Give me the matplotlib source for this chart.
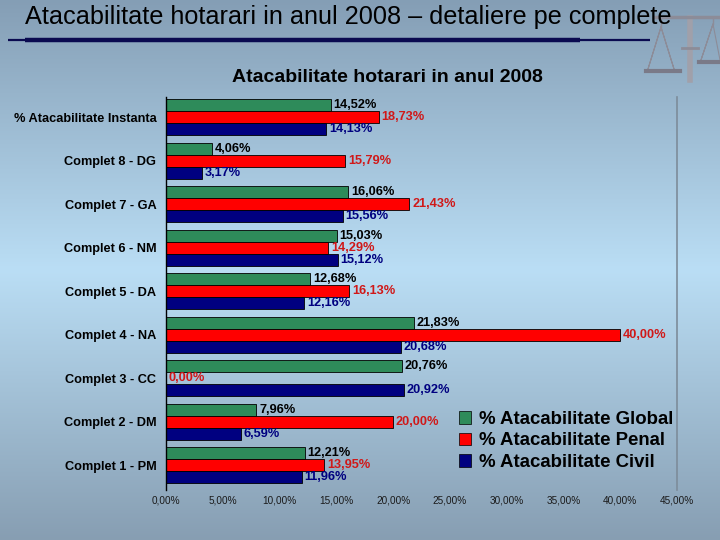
import numpy as np
import matplotlib
matplotlib.use('Agg')
import matplotlib.pyplot as plt
from matplotlib.colors import LinearSegmentedColormap
from matplotlib.patches import Patch

plt.rcParams['font.family'] = ['Liberation Sans', 'DejaVu Sans']

# data
categories = ['% Atacabilitate Instanta', 'Complet 8 - DG', 'Complet 7 - GA',
              'Complet 6 - NM', 'Complet 5 - DA', 'Complet 4 - NA',
              'Complet 3 - CC', 'Complet 2 - DM', 'Complet 1 - PM']
global_vals = [14.52, 4.06, 16.06, 15.03, 12.68, 21.83, 20.76, 7.96, 12.21]
penal_vals = [18.73, 15.79, 21.43, 14.29, 16.13, 40.00, 0.00, 20.00, 13.95]
civil_vals = [14.13, 3.17, 15.56, 15.12, 12.16, 20.68, 20.92, 6.59, 11.96]
xticks = [0, 5, 10, 15, 20, 25, 30, 35, 40, 45]

series_names = ['% Atacabilitate Global', '% Atacabilitate Penal', '% Atacabilitate Civil']
bar_colors = ['#2e8b5a', '#ff0000', '#000080']
label_colors = ['black', '#d01818', '#000080']


def pct(v):
    return f'{v:.2f}%'.replace('.', ',')


fig = plt.figure(figsize=(7.2, 5.4), dpi=100)

# background gradient + slide decorations (pixel coordinates)
bg = fig.add_axes([0, 0, 1, 1], zorder=0)
cmap = LinearSegmentedColormap.from_list('bg', [(0.0, (0.52, 0.62, 0.71)),
                                               (0.5, (0.73, 0.87, 0.96)),
                                               (1.0, (0.53, 0.62, 0.70))])
grad = np.linspace(0, 1, 256).reshape(-1, 1)
bg.imshow(grad, cmap=cmap, aspect='auto', extent=(0, 720, 540, 0))
bg.set_xlim(0, 720)
bg.set_ylim(540, 0)
bg.axis('off')

# underline of slide title
bg.plot([8, 650], [40, 40], color='#0a0a50', lw=1.6, solid_capstyle='butt')
bg.plot([25, 580], [40, 40], color='#0a0a50', lw=3.2, solid_capstyle='butt')

# little balance scale icon
metal = '#8c8c98'
bg.plot([690, 690], [18, 80], color='#a0a0aa', lw=4)
bg.plot([655, 720], [17, 17], color=metal, lw=2.5)
bg.plot([661, 661], [17, 27], color=metal, lw=1)
bg.plot([661, 648, 661, 674, 661], [27, 69, 27, 69, 27], color=metal, lw=0.8)
bg.plot([646, 680], [71, 71], color='#7a7a88', lw=3)
bg.plot([713, 713], [17, 24], color=metal, lw=1)
bg.plot([713, 701, 713, 720], [24, 60, 24, 60], color=metal, lw=0.8)
bg.plot([699, 720], [62, 62], color='#7a7a88', lw=3)
bg.plot([682, 698], [48, 48], color=metal, lw=2)

fig.text(25 / 720, 1 - 17 / 540, 'Atacabilitate hotarari in anul 2008 \u2013 detaliere pe complete',
         fontsize=18.2, ha='left', va='center', color='black', zorder=5)
fig.text(387 / 720, 1 - 77 / 540, 'Atacabilitate hotarari in anul 2008',
         fontsize=14, fontweight='bold', ha='center', va='center', zorder=5)

# main chart
ax = fig.add_axes([166 / 720, 1 - 490 / 540, 511 / 720, 393 / 540], zorder=2)
ax.patch.set_alpha(0)

y = np.arange(len(categories))
h = 0.276
all_vals = [global_vals, penal_vals, civil_vals]
for k, vals in enumerate(all_vals):
    bars = ax.barh(y + (k - 1) * h, vals, height=h, color=bar_colors[k],
                   edgecolor='black', linewidth=0.6, label=series_names[k])
    ax.bar_label(bars, labels=[pct(v) for v in vals], padding=2,
                 fontsize=9.2, fontweight='bold', color=label_colors[k])

ax.set_xlim(0, 45)
ax.set_ylim(8.57, -0.46)
ax.set_yticks(y)
ax.set_yticklabels(categories, fontsize=9.2, fontweight='bold')
ax.set_xticks(xticks)
ax.set_xticklabels([pct(v) for v in xticks], fontsize=7.2, color='#1a1a1a')
ax.tick_params(axis='y', length=0, pad=7)
ax.tick_params(axis='x', length=0, pad=4)

ax.spines['top'].set_visible(False)
ax.spines['bottom'].set_visible(False)
ax.spines['left'].set_color('black')
ax.spines['left'].set_linewidth(1)
ax.spines['right'].set_color('#7d8c9a')
ax.spines['right'].set_linewidth(1.2)

handles = [Patch(facecolor=c, edgecolor='black', linewidth=0.5) for c in bar_colors]
ax.legend(handles, series_names, loc='upper left',
          bbox_to_anchor=(459 / 720, 1 - 411 / 540), bbox_transform=fig.transFigure,
          frameon=False, prop={'size': 13.4, 'weight': 'bold'},
          handlelength=0.65, handleheight=0.65, handletextpad=0.4,
          labelspacing=0.24, borderpad=0, borderaxespad=0)

fig.savefig('out.png', dpi=100)
